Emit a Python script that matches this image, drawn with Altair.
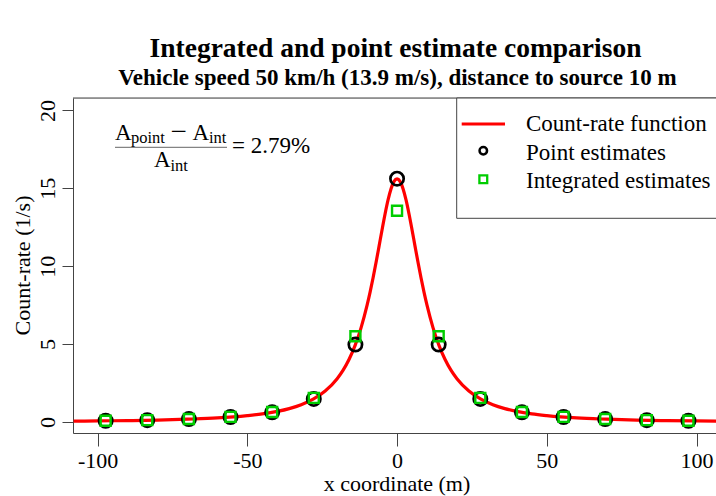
import altair as alt
import pandas as pd

# ---------------- data ----------------
curve_x = [-108, -100, -90, -80, -70, -60, -50, -45, -40, -36, -32, -28, -24, -20, -18, -16, -14, -12,
           -10, -9, -8, -7, -6, -5, -4, -3, -2, -1, 0, 1, 2, 3, 4, 5, 6, 7, 8, 9, 10,
           12, 14, 16, 18, 20, 24, 28, 32, 36, 40, 45, 50, 60, 70, 80, 90, 100, 108]
curve_y = [0.05, 0.07, 0.09, 0.12, 0.18, 0.26, 0.41, 0.52, 0.68, 0.86, 1.11, 1.47, 1.99, 2.78, 3.33, 4.03, 4.92, 6.06,
           7.50, 8.34, 9.26, 10.25, 11.29, 12.34, 13.35, 14.25, 14.97, 15.44, 15.60, 15.44, 14.97, 14.25, 13.35, 12.34, 11.29, 10.25, 9.26, 8.34, 7.50,
           6.06, 4.92, 4.03, 3.33, 2.78, 1.99, 1.47, 1.11, 0.86, 0.68, 0.52, 0.41, 0.26, 0.18, 0.12, 0.09, 0.07, 0.05]

est_x = [-97.3, -83.4, -69.5, -55.6, -41.7, -27.8, -13.9, 0, 13.9, 27.8, 41.7, 55.6, 69.5, 83.4, 97.3]
point_y = [0.08, 0.12, 0.19, 0.32, 0.62, 1.48, 4.97, 15.62, 4.97, 1.48, 0.62, 0.32, 0.19, 0.12, 0.08]
integ_y = [0.08, 0.12, 0.19, 0.33, 0.64, 1.55, 5.50, 13.56, 5.50, 1.55, 0.64, 0.33, 0.19, 0.12, 0.08]

x_ticks = [-100, -50, 0, 50, 100]
y_ticks = [0, 5, 10, 15, 20]

title = "Integrated and point estimate comparison"
subtitle = "Vehicle speed 50 km/h (13.9 m/s), distance to source 10 m"
x_title = "x coordinate (m)"
y_title = "Count-rate (1/s)"
legend_labels = ["Count-rate function", "Point estimates", "Integrated estimates"]
ratio_text = "= 2.79%"

# ---------------- layout ----------------
W, H = 643, 335
FONT = "Liberation Serif"
BOX = "#444444"
RED = "#FF0000"
GREEN = "#00CD00"

curve_df = pd.DataFrame({"x": curve_x, "y": curve_y})
point_df = pd.DataFrame({"x": est_x, "y": point_y})
integ_df = pd.DataFrame({"x": est_x, "y": integ_y})

xs = alt.Scale(domain=[-108.2, 106.5], nice=False, zero=False)
ys = alt.Scale(domain=[-0.706, 20.796], nice=False, zero=False)

x_axis = alt.Axis(values=x_ticks, title=None, grid=False, domainColor=BOX, domainWidth=1,
                  tickColor=BOX, tickWidth=1, tickSize=13, labelFont=FONT, labelFontSize=22,
                  labelColor="black", labelBaseline="alphabetic", labelPadding=21.5, labelAngle=0,
                  labelFlush=False, labelOverlap=False, labelExpr="toString(datum.value)")
y_axis = alt.Axis(values=y_ticks, title=None, grid=False, domainColor=BOX, domainWidth=1,
                  tickColor=BOX, tickWidth=1, tickSize=11, labelFont=FONT, labelFontSize=22,
                  labelColor="black", labelAngle=270, labelAlign="center", labelBaseline="alphabetic",
                  labelPadding=8, labelFlush=False, labelOverlap=False,
                  labelExpr="toString(datum.value)")

one = alt.Data(values=[{"k": 1}])


def txt(s, x, y, size=22, align="left", weight="normal", angle=0):
    kw = dict(text=s, align=align, baseline="alphabetic", font=FONT, fontSize=size,
              fontWeight=weight, color="black")
    if angle:
        kw["angle"] = angle
    return alt.Chart(one).mark_text(**kw).encode(x=alt.value(x), y=alt.value(y))


def rule(x1, x2, y1, y2, color=BOX, width=1):
    return alt.Chart(one).mark_rule(color=color, strokeWidth=width).encode(
        x=alt.value(x1), x2=alt.value(x2), y=alt.value(y1), y2=alt.value(y2))


curve = alt.Chart(curve_df).mark_line(color=RED, strokeWidth=3.2, interpolate="monotone", clip=True).encode(
    x=alt.X("x:Q", scale=xs, axis=x_axis),
    y=alt.Y("y:Q", scale=ys, axis=y_axis),
)
points = alt.Chart(point_df).mark_point(shape="circle", filled=False, color="black", strokeWidth=2.7,
                                         size=177, opacity=1).encode(
    x=alt.X("x:Q", scale=xs), y=alt.Y("y:Q", scale=ys))
integ = alt.Chart(integ_df).mark_point(shape="square", filled=False, color=GREEN, strokeWidth=2.4,
                                        size=100, opacity=1).encode(
    x=alt.X("x:Q", scale=xs), y=alt.Y("y:Q", scale=ys))

top_border = rule(0, W, 0, 0)

# legend (drawn by hand, R style)
legend_box = alt.Chart(one).mark_rect(fill="white", stroke=BOX, strokeWidth=1).encode(
    x=alt.value(383.7), x2=alt.value(W + 20), y=alt.value(0), y2=alt.value(120.3))
legend_line = rule(388.7, 432, 26, 26, color=RED, width=3)
legend_circle = alt.Chart(one).mark_point(shape="circle", filled=False, color="black", strokeWidth=2.5,
                                           size=56, opacity=1).encode(x=alt.value(410.3), y=alt.value(52.7))
legend_square = alt.Chart(one).mark_point(shape="square", filled=False, color=GREEN, strokeWidth=2.3,
                                           size=61, opacity=1).encode(x=alt.value(410.3), y=alt.value(81.3))
legend_texts = [txt(legend_labels[0], 453, 33, size=23), txt(legend_labels[1], 453, 61.5, size=23),
                txt(legend_labels[2], 453, 90, size=23)]

# formula annotation
formula = [
    txt("A", 42, 41.5, size=23), txt("point", 58, 45, size=16.5),
    txt("\u2212", 97.5, 43.2, size=29), txt("A", 119.5, 41.5, size=23), txt("int", 136, 45, size=16.5),
    rule(42, 154, 49.3, 49.3, color="#666666", width=1),
    txt("A", 81, 69.3, size=23), txt("int", 97.5, 72.8, size=16.5),
    txt(ratio_text, 159, 55.3, size=23),
]

titles = [
    txt(title, 322.5, -41.5, size=27.5, align="center", weight="bold"),
    txt(subtitle, 324.5, -13.5, size=23, align="center", weight="bold"),
    txt(x_title, 324, 393, align="center"),
    txt(y_title, -43, 167.5, align="center", angle=270),
]

chart = alt.layer(
    curve, points, integ, top_border, legend_box, legend_line, legend_circle, legend_square,
    *legend_texts, *formula, *titles
).properties(
    width=W, height=H,
    autosize=alt.AutoSizeParams(type="none"),
    padding={"left": 73, "top": 98, "right": 0, "bottom": 63},
).configure_view(stroke=None).configure(background="white")

chart.save("out.html", embed_options={"renderer": "svg", "actions": False})
